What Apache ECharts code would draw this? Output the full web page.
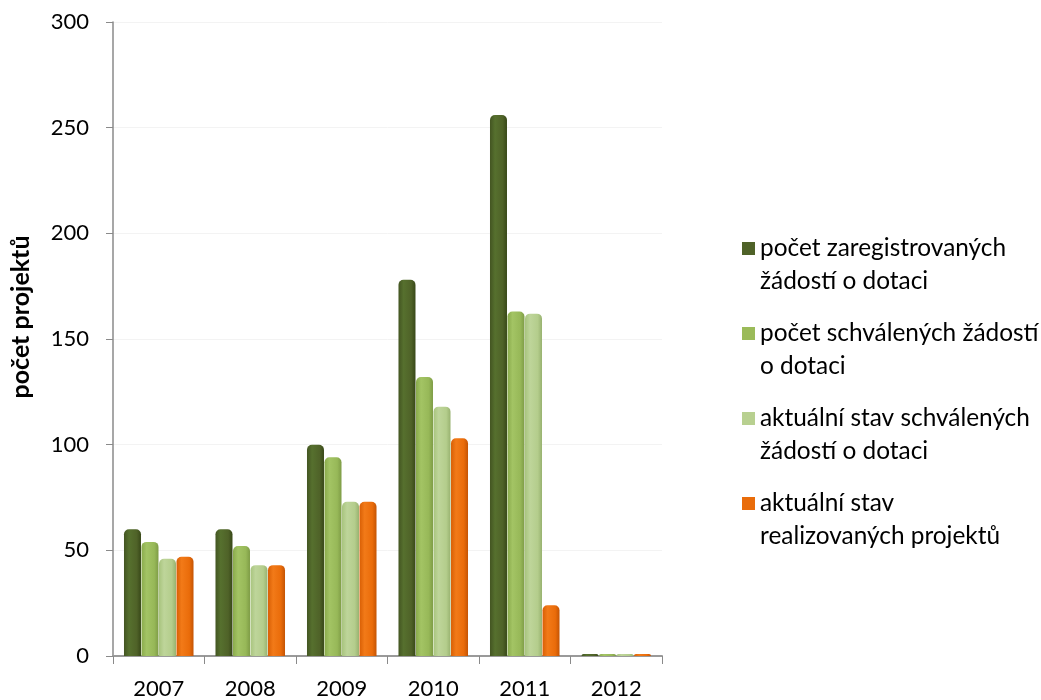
<!DOCTYPE html>
<html>
<head>
<meta charset="utf-8">
<script src="https://cdn.jsdelivr.net/npm/echarts@6/dist/echarts.min.js"></script>
<style>
html,body{margin:0;padding:0;background:#fff;}
#chart{width:1041px;height:700px;}
</style>
</head>
<body>
<div id="chart"></div>
<script>
var categories = ['2007', '2008', '2009', '2010', '2011', '2012'];
var seriesNames = [
  'počet zaregistrovaných\nžádostí o dotaci',
  'počet schválených žádostí\no dotaci',
  'aktuální stav schválených\nžádostí o dotaci',
  'aktuální stav\nrealizovaných projektů'
];
var registered = [60, 60, 100, 178, 256, 0];
var approved = [54, 52, 94, 132, 163, 0];
var approvedCurrent = [46, 43, 73, 118, 162, 0];
var realized = [47, 43, 73, 103, 24, 0];
var yTicks = [0, 50, 100, 150, 200, 250, 300];

var FONT = 'Lato, "Open Sans", sans-serif';

function cyl(c0, c1, c2, c3) {
  return {
    type: 'linear', x: 0, y: 0, x2: 1, y2: 0,
    colorStops: [
      {offset: 0, color: c0},
      {offset: 0.3, color: c1},
      {offset: 0.75, color: c2},
      {offset: 1, color: c3}
    ]
  };
}
var palettes = [
  ['#435522', '#56702e', '#4f6228', '#384818'],
  ['#8aab4c', '#a3c464', '#97b858', '#7e9c46'],
  ['#a8c47e', '#bed59a', '#b4cd8c', '#98b270'],
  ['#d85f05', '#f27a18', '#ea6c0a', '#c45404']
];
var solid = ['#4f6228', '#9bbb59', '#b8d090', '#e96c0a'];
var datasets = [registered, approved, approvedCurrent, realized];

var series = datasets.map(function (d, i) {
  var p = palettes[i];
  return {
    name: seriesNames[i],
    type: 'bar',
    data: d,
    barWidth: 17,
    barGap: '3%',
    barMinHeight: 2,
    itemStyle: {
      color: cyl(p[0], p[1], p[2], p[3]),
      borderRadius: [5, 5, 0, 0]
    }
  };
});

var chart = echarts.init(document.getElementById('chart'));
chart.setOption({
  animation: false,
  backgroundColor: '#ffffff',
  grid: {left: 107, top: 22, width: 555, bottom: 44},
  legend: {
    orient: 'vertical',
    left: 737,
    top: 194,
    itemWidth: 13,
    itemHeight: 13,
    itemGap: -14,
    icon: 'rect',
    data: seriesNames.map(function (n, i) {
      return {name: n, itemStyle: {color: solid[i]}};
    }),
    formatter: function (name) { return ' \n' + name; },
    textStyle: {
      fontFamily: FONT,
      fontSize: 24.4,
      color: '#000',
      lineHeight: 33
    }
  },
  xAxis: {
    type: 'category',
    data: categories,
    axisLine: {lineStyle: {color: '#9a9a9a', width: 2}},
    axisTick: {show: true, length: 8, lineStyle: {color: '#8a8a8a'}},
    axisLabel: {fontFamily: FONT, fontSize: 22, color: '#000', margin: 22}
  },
  yAxis: {
    type: 'value',
    min: yTicks[0],
    max: yTicks[yTicks.length - 1],
    interval: 50,
    name: 'počet projektů',
    nameLocation: 'middle',
    nameGap: 80,
    nameTextStyle: {
      fontFamily: FONT, fontSize: 25, fontWeight: 'bold', color: '#000',
      padding: [0, 0, 0, 44]
    },
    axisLine: {show: true, lineStyle: {color: '#8a8a8a', width: 1.5}},
    axisTick: {show: true, length: 7, lineStyle: {color: '#8a8a8a'}},
    axisLabel: {fontFamily: FONT, fontSize: 22, color: '#000', margin: 24},
    splitLine: {show: true, lineStyle: {color: '#f3f3f3'}}
  },
  series: series
});
</script>
</body>
</html>
